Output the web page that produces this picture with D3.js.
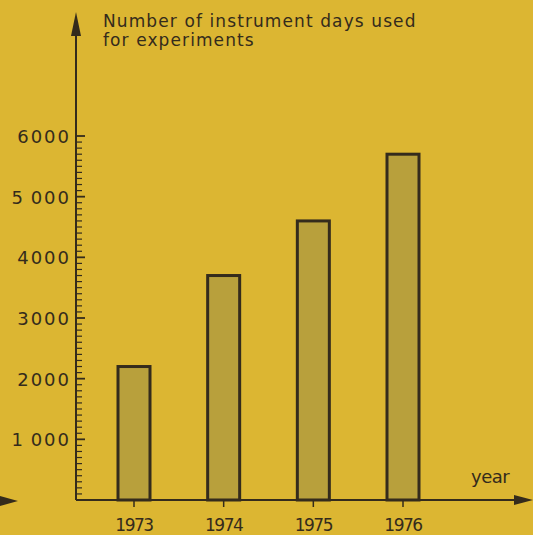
<!DOCTYPE html>
<html>
<head>
<meta charset="utf-8">
<script src="https://cdn.jsdelivr.net/npm/d3@7"></script>
<style>
  body { margin: 0; background: #dcb632; }
  svg { display: block; }
  text { font-family: "DejaVu Sans", sans-serif; fill: #342b1c; }
</style>
</head>
<body>
<svg width="533" height="535"></svg>
<script>
let years = ["1973", "1974", "1975", "1976"];
let days = [2200, 3700, 4600, 5700];
let yTicks = [1000, 2000, 3000, 4000, 5000, 6000];
let yTickLabels = ["1\u2009000", "2000", "3000", "4000", "5\u2009000", "6000"];
let titleLines = ["Number of instrument days used", "for experiments"];

let svg = d3.select("svg");
let ink = "#342b1c";

let x0 = 76, y0 = 500;
let yScale = d3.scaleLinear().domain([0, 6000]).range([y0, 136]);
let xScale = d3.scalePoint().domain(years).range([134, 403]);

svg.append("rect").attr("width", 533).attr("height", 535).attr("fill", "#dcb632");

// bars
svg.selectAll(".bar")
  .data(years)
  .enter().append("rect")
  .attr("class", "bar")
  .attr("x", d => xScale(d) - 16)
  .attr("y", (d, i) => yScale(days[i]))
  .attr("width", 32)
  .attr("height", (d, i) => y0 - yScale(days[i]))
  .attr("fill", "#b8a03c")
  .attr("stroke", ink)
  .attr("stroke-width", 3);

// y axis: minor ticks every 100, ticks point inward
let minor = d3.range(100, 6001, 100);
svg.selectAll(".minor")
  .data(minor)
  .enter().append("line")
  .attr("x1", x0)
  .attr("x2", d => d % 1000 === 0 ? x0 + 9 : x0 + 6)
  .attr("y1", d => yScale(d))
  .attr("y2", d => yScale(d))
  .attr("stroke", ink)
  .attr("stroke-width", d => d % 1000 === 0 ? 1.8 : 1.2);

svg.selectAll(".ylab")
  .data(yTicks)
  .enter().append("text")
  .attr("x", x0 - 5)
  .attr("y", d => yScale(d) + 7)
  .attr("text-anchor", "end")
  .attr("font-size", 18)
  .attr("letter-spacing", 2)
  .text((d, i) => yTickLabels[i]);

// axes lines
svg.append("line").attr("x1", x0).attr("x2", x0).attr("y1", y0).attr("y2", 30)
  .attr("stroke", ink).attr("stroke-width", 2);
svg.append("path").attr("d", `M${x0},12 L${x0 - 5},36 L${x0 + 5},36 Z`).attr("fill", ink);

svg.append("line").attr("x1", x0).attr("x2", 520).attr("y1", y0).attr("y2", y0)
  .attr("stroke", ink).attr("stroke-width", 2);
svg.append("path").attr("d", `M533,${y0} L514,${y0 - 5} L514,${y0 + 5} Z`).attr("fill", ink);
// detached arrow at the left edge
svg.append("path").attr("d", `M18,${y0 + 1} L-4,${y0 - 5} L-4,${y0 + 7} Z`).attr("fill", ink);

// x ticks below axis
svg.selectAll(".xtick")
  .data(years)
  .enter().append("line")
  .attr("x1", d => xScale(d)).attr("x2", d => xScale(d))
  .attr("y1", y0).attr("y2", y0 + 7)
  .attr("stroke", ink).attr("stroke-width", 1.5);

svg.selectAll(".xlab")
  .data(years)
  .enter().append("text")
  .attr("x", d => xScale(d))
  .attr("y", 531)
  .attr("text-anchor", "middle")
  .attr("font-size", 17)
  .attr("letter-spacing", -1.5)
  .text(d => d);

svg.append("text").attr("x", 471).attr("y", 483).attr("font-size", 18)
  .attr("letter-spacing", -0.5).text("year");

svg.selectAll(".title")
  .data(titleLines)
  .enter().append("text")
  .attr("x", 103)
  .attr("y", (d, i) => 27 + i * 19)
  .attr("font-size", 17)
  .attr("letter-spacing", 1.1)
  .text(d => d);
</script>
</body>
</html>
